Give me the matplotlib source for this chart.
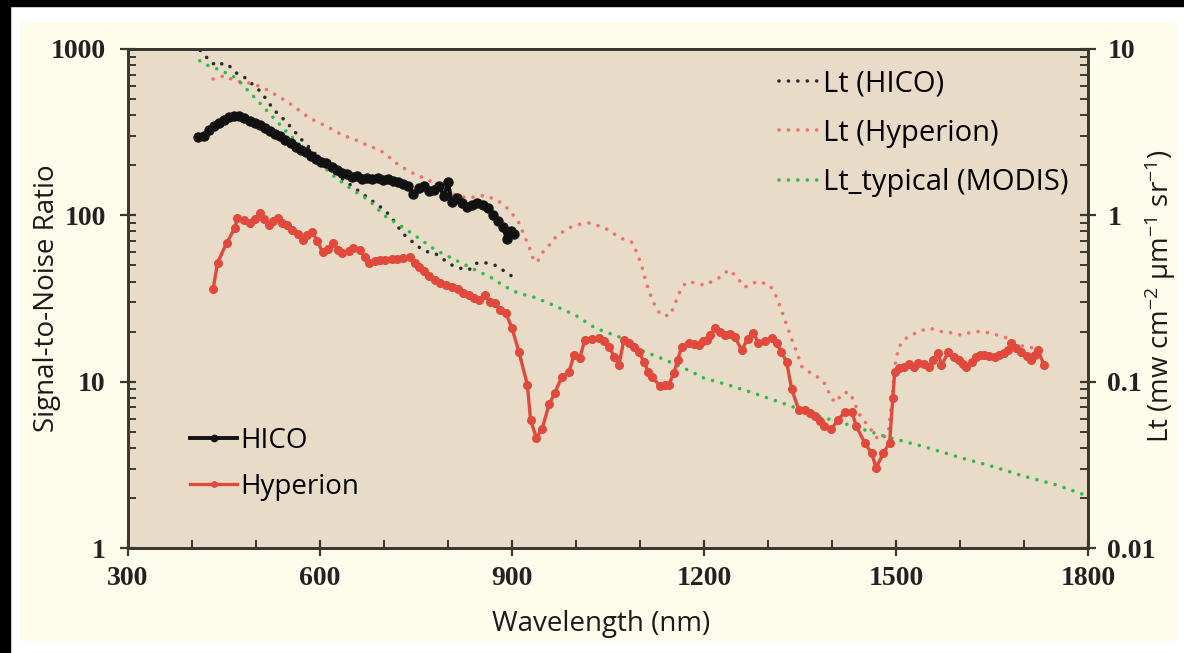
import numpy as np
import matplotlib
matplotlib.use('Agg')
import matplotlib.pyplot as plt
from matplotlib.patches import Rectangle
from matplotlib.ticker import LogLocator, MultipleLocator, FixedLocator, FixedFormatter, NullFormatter

plt.rcParams['mathtext.fontset'] = 'custom'
plt.rcParams['mathtext.rm'] = 'Open Sans'
plt.rcParams['mathtext.default'] = 'regular'

# SNR, HICO (left axis)
hico_wl = [410, 418, 426, 434, 442, 450, 458, 466, 474, 482, 490, 498, 506, 514, 522, 530, 538, 546,
           554, 562, 570, 578, 586, 594, 602, 610, 618, 626, 634, 642, 650, 658, 666, 674, 682, 690,
           698, 706, 714, 722, 730, 738, 746, 754, 762, 770, 778, 786, 794, 800, 806, 814, 822, 830,
           838, 846, 854, 862, 870, 878, 886, 892, 898, 903]
hico_snr = [295, 300, 325, 345, 360, 375, 390, 398, 395, 385, 370, 360, 350, 335, 322, 310, 298, 285,
            272, 258, 248, 240, 228, 218, 210, 205, 195, 188, 180, 176, 170, 172, 166, 168, 165, 168,
            162, 165, 160, 158, 155, 150, 135, 145, 150, 140, 142, 150, 130, 158, 120, 128, 118, 112,
            115, 118, 116, 110, 100, 92, 85, 72, 80, 77]

# SNR, Hyperion (left axis)
hyp_wl = [433, 440, 454, 467, 471, 481, 490, 499, 506, 513, 521, 527, 534, 541, 549, 557, 565, 573,
          580, 588, 596, 604, 612, 620, 628, 635, 645, 652, 662, 670, 677, 686, 694, 702, 712, 720,
          729, 740, 748, 755, 763, 771, 779, 787, 797, 807, 816, 824, 833, 841, 849, 858, 866, 874,
          882, 890, 900, 911, 924, 929, 938, 947, 958, 967, 978, 989, 997, 1006, 1014, 1025, 1036,
          1044, 1052, 1060, 1067, 1075, 1083, 1091, 1099, 1106, 1113, 1119, 1131, 1139, 1145, 1153,
          1159, 1165, 1176, 1184, 1192, 1198, 1204, 1210, 1217, 1225, 1233, 1241, 1248, 1259, 1268,
          1277, 1285, 1295, 1306, 1314, 1321, 1329, 1337, 1348, 1358, 1366, 1373, 1381, 1388, 1399,
          1410, 1420, 1431, 1438, 1451, 1462, 1469, 1480, 1490, 1495, 1498, 1505, 1513, 1521, 1528,
          1535, 1543, 1551, 1558, 1566, 1571, 1582, 1591, 1598, 1604, 1610, 1618, 1625, 1632, 1638,
          1646, 1654, 1661, 1669, 1675, 1680, 1688, 1696, 1704, 1711, 1717, 1722, 1731]
hyp_snr = [36, 52, 68, 84, 97, 94, 90, 95, 103, 95, 87, 93, 96, 90, 87, 82, 77, 71,
           76, 79, 70, 60, 63, 68, 62, 59, 61, 64, 62, 56, 52, 53, 54, 54, 55, 55,
           55.5, 56, 52, 49, 46, 43, 41, 39, 38, 37, 36, 34, 33, 32, 31, 33, 30, 29.6,
           27, 26, 21, 15, 9.6, 5.9, 4.6, 5.2, 7.3, 8.6, 10.7, 11.5, 14.4, 13.9, 17.9, 18.0, 18.3,
           17.5, 16.2, 14, 12.6, 17.9, 17.0, 16.2, 15, 13.2, 11.5, 10.7, 9.4, 9.5, 9.6, 11.3,
           13.5, 16.2, 17.1, 16.8, 16.6, 17.5, 17.9, 19, 21, 20, 19.1, 19.3, 18.6, 15.5, 18,
           19.6, 17.1, 17.5, 18.3, 17.0, 15.0, 13.2, 9.0, 6.8, 6.8, 6.5, 6.2, 5.8, 5.4, 5.2,
           5.9, 6.6, 6.6, 5.4, 4.3, 3.7, 3.04, 3.7, 4.3, 8.0, 11.5, 12.0, 12.2, 12.8, 12.3,
           13.0, 12.8, 12.2, 13.5, 14.8, 12.6, 15.0, 14.1, 13.5, 12.8, 12.2, 13.2, 14.1, 14.5, 14.5,
           14.3, 14.1, 14.5, 14.8, 15.5, 17.1, 16, 15.0, 14.2, 13.5, 14.5, 15.5, 12.6]

# Lt (HICO), right axis
lt_hico_wl = [413, 420, 428, 440, 448, 456, 465, 475, 484, 495, 506, 516, 526, 536, 546, 560, 573, 586,
              599, 612, 624, 645, 666, 684, 702, 716, 729, 745, 760, 770, 780, 794, 807, 820, 833,
              841, 849, 857, 866, 874, 885, 893, 900]
lt_hico = [9.8, 9.2, 8.4, 7.9, 8.2, 8.1, 7.4, 6.9, 6.7, 6.1, 5.6, 5.0, 4.4, 4.0, 3.7, 3.2, 2.8, 2.5,
           2.2, 1.97, 1.78, 1.55, 1.35, 1.2, 1.07, 0.92, 0.78, 0.69, 0.62, 0.6, 0.59, 0.54, 0.50, 0.48, 0.47,
           0.51, 0.52, 0.52, 0.51, 0.50, 0.47, 0.45, 0.43]

# Lt (Hyperion), right axis
lt_hyp_wl = [433, 443, 453, 461, 469, 482, 495, 508, 521, 534, 546, 560, 573, 586, 599, 612, 624, 638,
             651, 664, 677, 690, 702, 716, 729, 744, 752, 760, 770, 780, 794, 807, 820, 833, 845, 858,
             872, 885, 898, 911, 919, 927, 933, 939, 948, 958, 963, 976, 989, 1004, 1020, 1033, 1045,
             1056, 1067, 1077, 1087, 1095, 1103, 1111, 1119, 1127, 1134, 1147, 1154, 1161, 1168, 1176,
             1188, 1201, 1212, 1223, 1232, 1240, 1252, 1264, 1275, 1285, 1295, 1303, 1312, 1321, 1329,
             1337, 1345, 1353, 1363, 1373, 1381, 1388, 1396, 1404, 1411, 1418, 1428, 1435, 1441, 1449,
             1457, 1465, 1472, 1480, 1488, 1494, 1498, 1504, 1513, 1524, 1535, 1552, 1562, 1571, 1581,
             1591, 1602, 1613, 1628, 1638, 1649, 1659, 1669, 1677, 1685, 1692, 1700, 1711, 1722, 1731]
lt_hyp = [6.6, 6.8, 6.9, 6.6, 6.4, 6.3, 6.2, 5.9, 5.6, 5.2, 4.9, 4.5, 4.1, 3.8, 3.6, 3.4, 3.2, 3.0,
          2.9, 2.75, 2.6, 2.5, 2.35, 2.1, 1.94, 1.8, 1.75, 1.69, 1.62, 1.56, 1.45, 1.35, 1.3, 1.27, 1.3, 1.32,
          1.25, 1.18, 1.05, 0.90, 0.76, 0.64, 0.55, 0.52, 0.6, 0.66, 0.71, 0.78, 0.84, 0.88, 0.90, 0.87, 0.84,
          0.79, 0.74, 0.71, 0.69, 0.6, 0.49, 0.38, 0.31, 0.27, 0.25, 0.25, 0.29, 0.34, 0.38, 0.40,
          0.39, 0.38, 0.40, 0.42, 0.45, 0.47, 0.42, 0.37, 0.39, 0.40, 0.39, 0.38, 0.33, 0.27, 0.22,
          0.18, 0.15, 0.123, 0.115, 0.11, 0.104, 0.098, 0.085, 0.075, 0.08, 0.086, 0.086, 0.075, 0.065, 0.059,
          0.054, 0.049, 0.045, 0.046, 0.049, 0.08, 0.123, 0.16, 0.18, 0.19, 0.20, 0.21, 0.205, 0.20, 0.198,
          0.196, 0.19, 0.196, 0.20, 0.198, 0.196, 0.19, 0.186, 0.18, 0.174, 0.168, 0.162, 0.16, 0.16, 0.14]

# Lt_typical (MODIS), right axis
modis_wl = [412, 420, 443, 469, 488, 521, 547, 573, 600, 624, 650, 677, 700, 729, 754, 780, 807, 833,
            858, 874, 885, 910, 937, 963, 1000, 1030, 1067, 1100, 1130, 1170, 1200, 1240, 1275, 1320,
            1379, 1420, 1482, 1550, 1600, 1650, 1700, 1750, 1800]
modis_lt = [8.5, 8.1, 7.5, 6.7, 5.6, 4.1, 3.2, 2.55, 2.05, 1.69, 1.43, 1.23, 1.0, 0.85, 0.73, 0.62, 0.55, 0.49,
            0.44, 0.41, 0.38, 0.34, 0.32, 0.29, 0.25, 0.21, 0.186, 0.155, 0.14, 0.12, 0.105, 0.095, 0.086, 0.075,
            0.062, 0.056, 0.047, 0.04, 0.035, 0.031, 0.027, 0.024, 0.0205]

xticks = [300, 600, 900, 1200, 1500, 1800]
snr_ticks = [1, 10, 100, 1000]
lt_ticks = [0.01, 0.1, 1, 10]

W, H = 1184, 653
fig = plt.figure(figsize=(W / 100, H / 100), dpi=100, facecolor='white')
fig.patches.append(Rectangle((0, 1 - 6 / H), 1, 6 / H, transform=fig.transFigure, color='black', zorder=-5))
fig.patches.append(Rectangle((0, 0), 10 / W, 1, transform=fig.transFigure, color='black', zorder=-5))
fig.patches.append(Rectangle((20 / W, 13 / H), 1157 / W, 618 / H, transform=fig.transFigure,
                             color='#fefdec', zorder=-5))

ax = fig.add_axes([128 / W, 1 - 548 / H, 960 / W, 499 / H])
ax2 = ax.twinx()
ax.set_zorder(ax2.get_zorder() + 1)
ax.patch.set_visible(False)
ax2.patch.set_visible(True)
ax2.patch.set_facecolor('#e8dcc8')

dot = dict(linestyle=(0, (0.01, 2.6)), linewidth=2.6, dash_capstyle='round')
h1, = ax2.plot(lt_hico_wl, lt_hico, color='#2b2b2b', label='Lt (HICO)', **dot)
h2, = ax2.plot(lt_hyp_wl, lt_hyp, color='#ee7068', label='Lt (Hyperion)', **dot)
h3, = ax2.plot(modis_wl, modis_lt, color='#2dbb4a', label='Lt_typical (MODIS)', **dot)

s1, = ax.plot(hico_wl, hico_snr, color='#111111', lw=2.8, marker='o', ms=6.5, label='HICO')
s2, = ax.plot(hyp_wl, hyp_snr, color='#e0493b', lw=2.4, marker='o', ms=5.5, label='Hyperion')

ax.set_yscale('log')
ax2.set_yscale('log')
ax.set_xlim(300, 1800)
ax.set_ylim(1, 1000)
ax2.set_ylim(0.01, 10)

tickfont = dict(family='Liberation Serif', weight='bold', size=20)
ax.xaxis.set_major_locator(FixedLocator(xticks))
ax.xaxis.set_minor_locator(MultipleLocator(100))
ax.set_xticklabels([str(t) for t in xticks], **tickfont)
ax.yaxis.set_major_locator(FixedLocator(snr_ticks))
ax.yaxis.set_major_formatter(FixedFormatter([str(t) for t in snr_ticks]))
ax.yaxis.set_minor_locator(LogLocator(base=10, subs=np.arange(2, 10)))
ax.yaxis.set_minor_formatter(NullFormatter())
ax2.yaxis.set_major_locator(FixedLocator(lt_ticks))
ax2.yaxis.set_major_formatter(FixedFormatter(['0.01', '0.1', '1', '10']))
ax2.yaxis.set_minor_locator(LogLocator(base=10, subs=np.arange(2, 10)))
ax2.yaxis.set_minor_formatter(NullFormatter())
for lab in ax.get_yticklabels() + ax2.get_yticklabels():
    lab.set_fontfamily('Liberation Serif')
    lab.set_fontweight('bold')
    lab.set_fontsize(20)

spc = '#3b3830'
for a in (ax, ax2):
    for s in a.spines.values():
        s.set_color(spc)
        s.set_linewidth(2)
    a.tick_params(which='major', direction='inout', length=12, width=1.6, color=spc, labelcolor='#222222')
    a.tick_params(which='minor', direction='in', length=6, width=1.4, color=spc)
ax.tick_params(axis='x', which='both', top=False)
ax.tick_params(axis='x', which='major', pad=7)
ax.tick_params(axis='y', which='both', right=False)
ax.tick_params(axis='y', which='major', pad=10)
ax2.tick_params(axis='y', which='both', left=False)
ax2.tick_params(axis='y', which='major', pad=8)

lab = dict(family='Open Sans', size=20, color='#1a1a1a')
ax.set_xlabel('Wavelength (nm)', **lab)
ax.set_ylabel('Signal-to-Noise Ratio', **lab)
ax2.set_ylabel('Lt (mw cm$^{-2}$ µm$^{-1}$ sr$^{-1}$)', **lab)
ax.xaxis.set_label_coords(0.493, -0.124)
ax.yaxis.set_label_coords(-0.07, 0.5)
ax2.yaxis.set_label_coords(1.057, 0.505)

legfont = dict(family='Open Sans', size=21)
leg1 = ax.legend(handles=[h1, h2, h3], loc='upper right', bbox_to_anchor=(0.992, 0.983), borderaxespad=0,
                 frameon=False, handlelength=1.4, handletextpad=0.1, labelspacing=0.7, prop=legfont)
ax.add_artist(leg1)
ax.legend(handles=[s1, s2], loc='upper left', bbox_to_anchor=(0.053, 0.265), borderaxespad=0,
          frameon=False, handlelength=1.7, handletextpad=0.1, labelspacing=0.65, markerscale=0.7,
          prop=dict(family='Open Sans', size=20))

fig.savefig('out.png', dpi=100)
